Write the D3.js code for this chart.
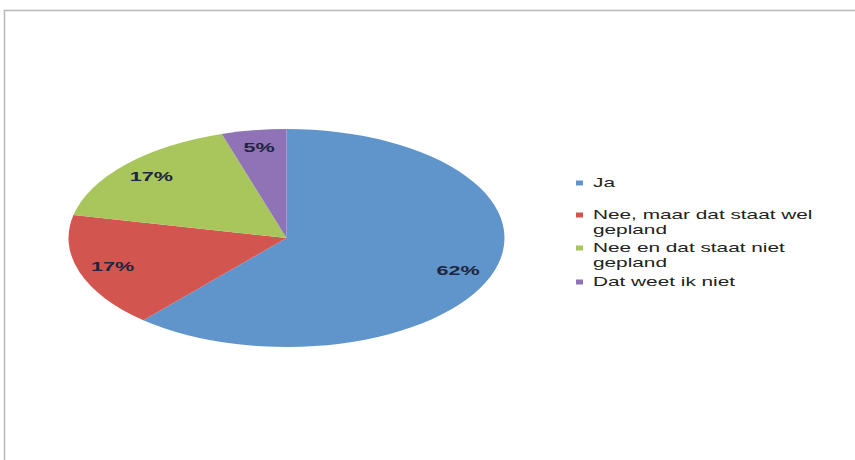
<!DOCTYPE html>
<html><head><meta charset="utf-8">
<script src="https://cdn.jsdelivr.net/npm/d3@7"></script>
<style>body{margin:0;background:#fff}svg{display:block}</style>
</head><body>
<svg id="c" width="855" height="460"></svg>
<script>
const categories = ["Ja", "Nee, maar dat staat wel gepland", "Nee en dat staat niet gepland", "Dat weet ik niet"];
const legendLines = [["Ja"], ["Nee, maar dat staat wel", "gepland"], ["Nee en dat staat niet", "gepland"], ["Dat weet ik niet"]];
const values = [61.4, 17.0, 16.8, 4.8];
const valueLabels = ["62%", "17%", "17%", "5%"];
const colors = ["#6095cb", "#d2564f", "#a9c65c", "#9072b6"];

const svg = d3.select("#c");
// frame
svg.append("path").attr("d", "M4.5,460 V10.5 H855").attr("fill", "none")
  .attr("stroke", "#b8b8b8").attr("stroke-width", 1.5);

const cx = 286.5, cy = 238, R = 109, sx = 2.0, textSX = 1.6;
const pie = d3.pie().sort(null).value(d => d)(values);
const arc = d3.arc().innerRadius(0).outerRadius(R);
const labelArc = d3.arc().innerRadius(R * 0.84).outerRadius(R * 0.84);

const g = svg.append("g").attr("transform", `translate(${cx},${cy}) scale(${sx},1)`);
g.selectAll("path").data(pie).join("path")
  .attr("d", arc).attr("fill", (d, i) => colors[i]);

svg.append("g").selectAll("text").data(pie).join("text")
  .attr("transform", d => { const c = labelArc.centroid(d); return `translate(${cx + c[0] * sx},${cy + c[1]}) scale(${textSX},1)`; })
  .attr("text-anchor", "middle").attr("dominant-baseline", "central")
  .attr("font-family", "Liberation Sans, Arial, sans-serif").attr("font-size", 13.5)
  .attr("font-weight", "bold").attr("fill", "#1d2540")
  .text((d, i) => valueLabels[i]);

// legend
const legendY = [183, 215, 248, 282];
const lg = svg.append("g");
categories.forEach((c, i) => {
  lg.append("rect").attr("x", 576).attr("y", legendY[i] - 2.5).attr("width", 7).attr("height", 5).attr("fill", colors[i]);
  legendLines[i].forEach((line, j) => {
    lg.append("text")
      .attr("transform", `translate(593,${legendY[i] + j * 15}) scale(${textSX},1)`)
      .attr("dominant-baseline", "central")
      .attr("font-family", "Liberation Sans, Arial, sans-serif").attr("font-size", 13)
      .attr("fill", "#222").text(line);
  });
});
</script>
</body></html>
